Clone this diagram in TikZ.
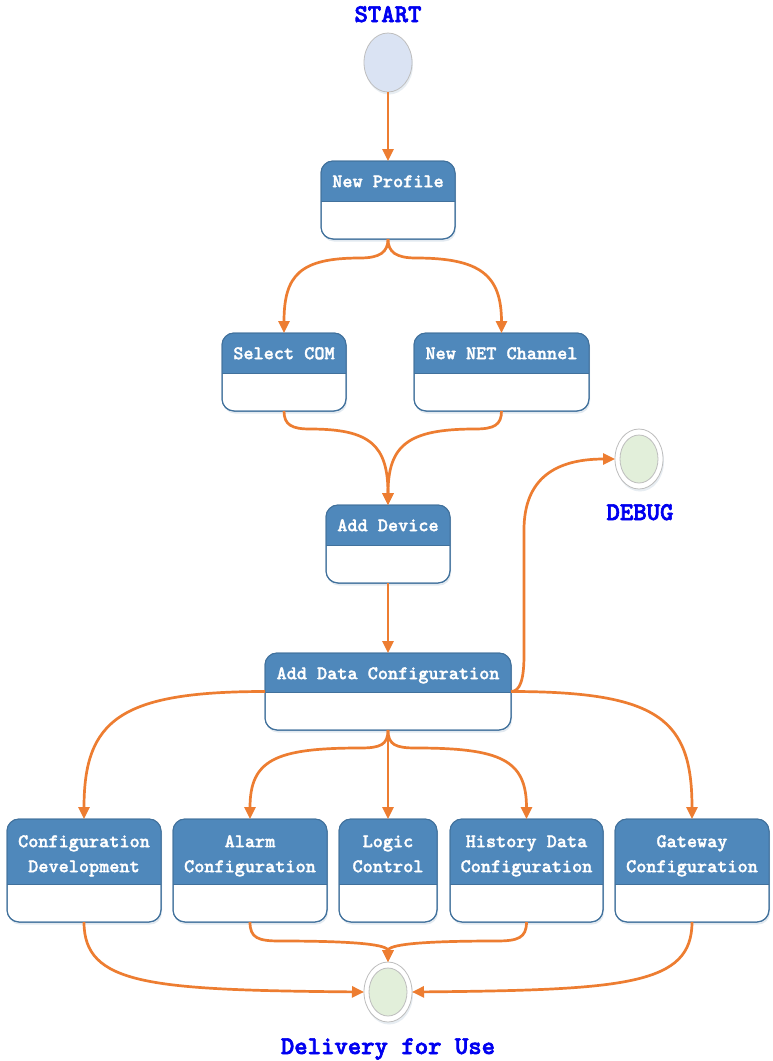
\documentclass[tikz,border=0pt]{standalone}
\usepackage{fontspec}
\newfontfamily\tbold{lmmonolt10-bold.otf}[FakeBold=2.5]
\newfontfamily\tmed{lmmonolt10-bold.otf}[FakeBold=1.5]
\usetikzlibrary{arrows.meta,shapes.geometric,shadows}
\definecolor{hdr}{RGB}{79,136,187}
\definecolor{bord}{RGB}{65,113,156}
\definecolor{edgec}{RGB}{237,125,49}
\definecolor{startfill}{RGB}{218,227,243}
\definecolor{endfill}{RGB}{226,239,218}
\definecolor{ringc}{RGB}{190,190,190}
\definecolor{lbl}{RGB}{0,0,240}
\tikzset{
  boxnode/.style={draw=bord, line width=1pt, fill=white, rounded corners=12pt, inner sep=0pt, outer sep=0pt,
    drop shadow={opacity=0.15, shadow xshift=1pt, shadow yshift=-2.5pt, fill=bord}},
  titletext/.style={text=white, font=\tmed\fontsize{19.3}{25}\selectfont, align=center, inner sep=0pt,
    text height=14pt, anchor=north},
  flow/.style={draw=edgec, line width=2.7pt, -{Triangle[length=12pt,width=11pt]}},
  lbltext/.style={text=lbl, font=\tbold\fontsize{25.5}{28}\selectfont, inner sep=0pt, anchor=base},
  outerring/.style={ellipse, draw=ringc, line width=0.8pt, fill=white, inner sep=0pt, outer sep=0pt,
    minimum width=48pt, minimum height=60pt, drop shadow={opacity=0.12, shadow xshift=1pt, shadow yshift=-2.5pt, fill=bord}},
  innerdot/.style={ellipse, draw=ringc, line width=0.8pt, fill=endfill, inner sep=0pt, minimum width=38pt, minimum height=48pt},
}
% #1 name, #2 cx, #3 top, #4 width, #5 height, #6 header height, #7 last baseline offset, #8 text
\newcommand\umlbox[8]{%
  \node[boxnode, minimum width=#4pt, minimum height=#5pt, anchor=north] (#1) at (#2,#3) {};
  \begin{scope}
    \clip[rounded corners=12pt] (#1.north west) rectangle (#1.south east);
    \fill[hdr] (#1.north west) rectangle ([yshift=-#6pt]#1.north east);
  \end{scope}
  \draw[bord, line width=1pt] ([yshift=-#6pt]#1.north west) -- ([yshift=-#6pt]#1.north east);
  \draw[bord, line width=1pt, rounded corners=12pt] (#1.north west) rectangle (#1.south east);
  \node[titletext] (#1t) at ([yshift=-#7pt+14pt]#1.north) {#8};
}
\begin{document}
\begin{tikzpicture}[x=1pt,y=-1pt]
\useasboundingbox[fill=white] (0,0) rectangle (772,1061);

% start
\node[ellipse, draw=ringc, line width=0.8pt, fill=startfill, inner sep=0pt, outer sep=0pt,
  minimum width=48pt, minimum height=59pt,
  drop shadow={opacity=0.12, shadow xshift=1pt, shadow yshift=-2.5pt, fill=bord}] (st) at (388,62.5) {};
\node[lbltext] (lst) at (388,22) {START};

% boxes
\umlbox{np}{388}{161}{134}{78}{40}{26}{New Profile}
\umlbox{sc}{284}{333}{124}{78}{40}{26}{Select COM}
\umlbox{nn}{501.5}{333}{175}{78}{40}{26}{New NET Channel}
\umlbox{ad}{388}{505}{124}{78}{40}{26}{Add Device}
\umlbox{adc}{388}{653}{246}{77}{39}{26}{Add Data Configuration}
\umlbox{cd}{84}{819}{154}{103}{65}{53}{Configuration\\Development}
\umlbox{al}{250}{819}{154}{103}{65}{53}{Alarm\\Configuration}
\umlbox{lc}{388}{819}{98}{103}{65}{53}{Logic\\Control}
\umlbox{hd}{526.5}{819}{153}{103}{65}{53}{History Data\\Configuration}
\umlbox{gw}{692}{819}{154}{103}{65}{53}{Gateway\\Configuration}

% debug
\node[outerring] (dbg) at (639,459) {};
\node[innerdot] (dbgi) at (639,459) {};
\node[lbltext] (ldbg) at (640,520) {DEBUG};

% delivery
\node[outerring] (del) at (388,992) {};
\node[innerdot] (deli) at (388,992) {};
\node[lbltext] (ldel) at (388,1054) {Delivery for Use};

% connectors
\draw[flow] (st.south) -- (np.north);
\draw[flow] (np.south) .. controls (388,252) and (380,258) .. (360,258) .. controls (300,258) and (284,275) .. (sc.north);
\draw[flow] (np.south) .. controls (388,252) and (396,258) .. (416,258) .. controls (480,258) and (501.5,275) .. (nn.north);
\draw[flow] (sc.south) .. controls (284,425) and (292,429) .. (310,429) .. controls (370,429) and (388,445) .. (ad.north);
\draw[flow] (nn.south) .. controls (501.5,425) and (494,429) .. (475,429) .. controls (408,429) and (388,445) .. (ad.north);
\draw[flow] (ad.south) -- (adc.north);
\draw[flow] (adc.east) .. controls (520,691.5) and (524,680) .. (524,655) -- (524,530) .. controls (524,478) and (556,459) .. (dbg.west);
\draw[flow] (adc.west) .. controls (120,691.5) and (84,720) .. (cd.north);
\draw[flow] (adc.south) .. controls (388,745) and (380,748) .. (360,748) .. controls (275,748) and (250,760) .. (al.north);
\draw[flow] (adc.south) -- (lc.north);
\draw[flow] (adc.south) .. controls (388,745) and (396,748) .. (416,748) .. controls (501,748) and (526.5,760) .. (hd.north);
\draw[flow] (adc.east) .. controls (660,691.5) and (692,720) .. (gw.north);
\draw[flow] (cd.south) .. controls (84,985) and (150,990) .. (del.west);
\draw[flow] (gw.south) .. controls (692,985) and (626,990) .. (del.east);
\draw[flow] (al.south) .. controls (250,938) and (258,941) .. (280,941) .. controls (360,941) and (388,945) .. (del.north);
\draw[flow] (hd.south) .. controls (526.5,938) and (518,941) .. (496,941) .. controls (416,941) and (388,945) .. (del.north);
\end{tikzpicture}
\end{document}
